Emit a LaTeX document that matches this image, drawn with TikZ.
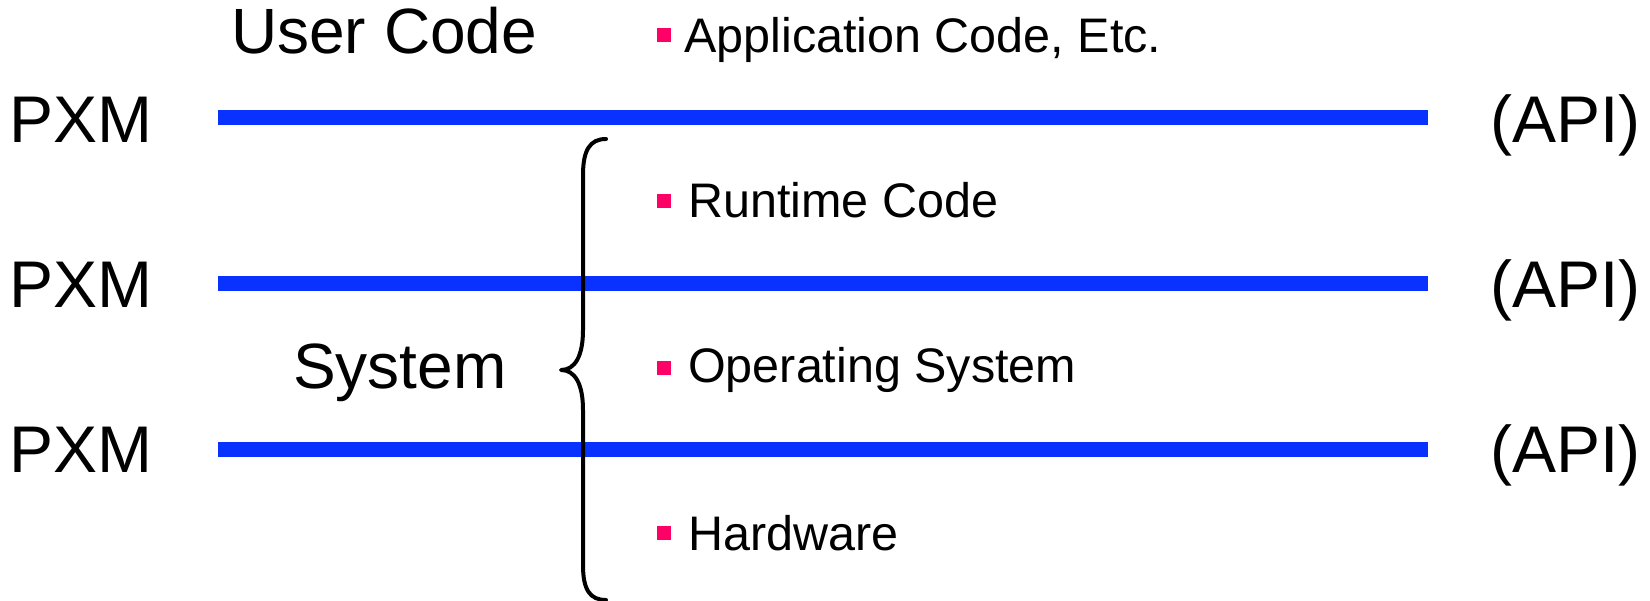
\documentclass[tikz,border=0pt]{standalone}
\usepackage{fontspec}
\setmainfont{Liberation Sans}
\definecolor{layerblue}{RGB}{10,50,255}
\definecolor{bulletpink}{RGB}{255,0,102}
\begin{document}
\begin{tikzpicture}[x=1pt,y=-1pt,
  big/.style={anchor=base west,inner sep=0pt,font=\fontsize{66}{79}\selectfont},
  head/.style={anchor=base west,inner sep=0pt,font=\fontsize{64}{77}\selectfont},
  item/.style={anchor=base west,inner sep=0pt,font=\fontsize{48.5}{58}\selectfont},
  bulletsq/.style={fill=bulletpink,inner sep=0pt,minimum size=14pt,draw=none},
  layer/.style={draw=layerblue,line width=15pt},
  bracestyle/.style={draw=black,line width=4pt,line cap=round,line join=round}]
\useasboundingbox (0,0) rectangle (1650,601);

% headings
\node[head] (user) at (231,54) {User Code};
\node[head] (system) at (293,389) {System};

% interface levels
\foreach \i/\y/\b in {1/117.5/143,2/284/308,3/449.5/473}{
  \node[big] (pxm\i) at (9,\b) {PXM};
  \node[big] (api\i) at (1490,\b) {(API)};
  \coordinate (la\i) at (218,\y);
  \coordinate (lb\i) at (1428,\y);
  \draw[layer] (la\i) -- (lb\i);
}

% bulleted items
\node[bulletsq] (b1) at (664,35.5) {};
\node[item] (t1) at (684,53) {Application Code, Etc.};
\node[bulletsq] (b2) at (664,201) {};
\node[item] (t2) at (688,218) {Runtime Code};
\node[bulletsq] (b3) at (664,368) {};
\node[item] (t3) at (688,383) {Operating System};
\node[bulletsq] (b4) at (664,533) {};
\node[item] (t4) at (688,550) {Hardware};

% curly brace grouping the system layers
\draw[bracestyle] (606,139) .. controls (590,139) and (583,150) .. (583,175)
  -- (583,330) .. controls (583,356) and (575,370) .. (561,370)
  .. controls (575,370) and (583,384) .. (583,410)
  -- (583,565) .. controls (583,590) and (590,600) .. (606,600);
\end{tikzpicture}
\end{document}
